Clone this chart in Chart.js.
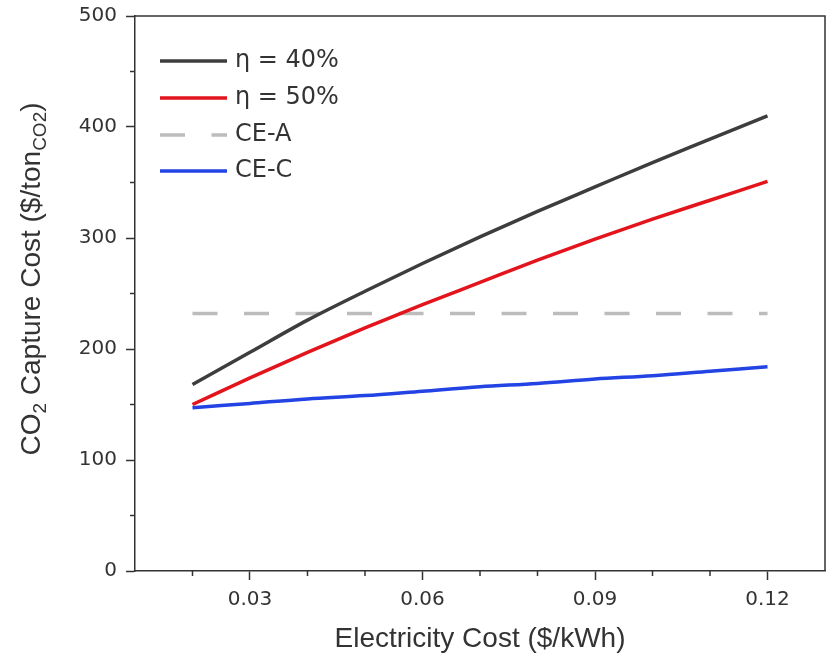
<!DOCTYPE html>
<html>
<head>
<meta charset="utf-8">
<script src="https://cdn.jsdelivr.net/npm/chart.js@4/dist/chart.umd.min.js"></script>
<style>
  html, body { margin: 0; padding: 0; background: #fff; }
  #wrap { width: 829px; height: 659px; }
</style>
</head>
<body>
<div id="wrap"><canvas id="c" width="829" height="659"></canvas></div>
<script>
// ---- data ----
const costs = [0.02, 0.03, 0.04, 0.05, 0.06, 0.07, 0.08, 0.09, 0.10, 0.11, 0.12];
const eta40 = [168, 197, 226, 252, 277, 301, 324, 346, 368, 389, 410];
const eta50 = [150, 174, 197, 219, 240, 260, 280, 299, 317, 334, 351];
const ceA   = [232, 232, 232, 232, 232, 232, 232, 232, 232, 232, 232];
const ceC   = [147, 151, 155, 158, 162, 166, 169, 173, 176, 180, 184];
const seriesLabels = ['η = 40%', 'η = 50%', 'CE-A', 'CE-C'];
const xTicks = [0.03, 0.06, 0.09, 0.12];
const xMinorTicks = [0.02, 0.04, 0.05, 0.07, 0.08, 0.10, 0.11];
const yTicks = [0, 100, 200, 300, 400, 500];
const yMinorTicks = [50, 150, 250, 350, 450];
const xTitle = 'Electricity Cost ($/kWh)';

const TITLE_FONT = '"Liberation Sans", Arial, sans-serif';
const TICK_FONT = '"DejaVu Sans", Verdana, sans-serif';
const AXIS = '#333333';

const pts = (ys) => costs.map((x, i) => ({ x: x, y: ys[i] }));

const frameAndText = {
  id: 'frameAndText',
  afterDraw(chart) {
    const ctx = chart.ctx;
    const a = chart.chartArea;
    const xs = chart.scales.x, ys = chart.scales.y;
    ctx.save();
    // top and right frame
    ctx.strokeStyle = AXIS;
    ctx.lineWidth = 1.5;
    ctx.beginPath();
    ctx.moveTo(a.left, a.top); ctx.lineTo(a.right, a.top); ctx.lineTo(a.right, a.bottom);
    ctx.stroke();
    // minor ticks
    ctx.beginPath();
    xMinorTicks.forEach(v => { const p = xs.getPixelForValue(v); ctx.moveTo(p, a.bottom); ctx.lineTo(p, a.bottom + 5); });
    yMinorTicks.forEach(v => { const p = ys.getPixelForValue(v); ctx.moveTo(a.left, p); ctx.lineTo(a.left - 5, p); });
    ctx.stroke();

    // x title
    ctx.fillStyle = AXIS;
    ctx.font = '28px ' + TITLE_FONT;
    ctx.textAlign = 'center';
    ctx.textBaseline = 'middle';
    ctx.fillText(xTitle, (a.left + a.right) / 2, 639);

    // y title with subscripts
    const big = '28px ' + TITLE_FONT, small = '19px ' + TITLE_FONT;
    const parts = [
      { t: 'CO', f: big, dy: 0 },
      { t: '2', f: small, dy: 6 },
      { t: ' Capture Cost ($/ton', f: big, dy: 0 },
      { t: 'CO2', f: small, dy: 6 },
      { t: ')', f: big, dy: 0 }
    ];
    let total = 0;
    parts.forEach(p => { ctx.font = p.f; p.w = ctx.measureText(p.t).width; total += p.w; });
    ctx.translate(40, 279);
    ctx.rotate(-Math.PI / 2);
    ctx.textAlign = 'left';
    ctx.textBaseline = 'alphabetic';
    let x = -total / 2;
    parts.forEach(p => { ctx.font = p.f; ctx.fillText(p.t, x, p.dy); x += p.w; });
    ctx.restore();

    // legend inside plot
    ctx.save();
    const rows = [61, 98, 135, 171];
    chart.data.datasets.forEach((ds, i) => {
      const y = rows[i];
      ctx.strokeStyle = ds.borderColor;
      ctx.lineWidth = ds.borderWidth;
      ctx.setLineDash(ds.borderDash || []);
      ctx.beginPath();
      ctx.moveTo(160, y); ctx.lineTo(227, y);
      ctx.stroke();
      ctx.setLineDash([]);
      ctx.fillStyle = AXIS;
      ctx.font = '24px ' + TICK_FONT;
      ctx.textAlign = 'left';
      ctx.textBaseline = 'middle';
      ctx.fillText(ds.label, 235, y);
    });
    ctx.restore();
  }
};

new Chart(document.getElementById('c'), {
  type: 'line',
  data: {
    datasets: [
      { label: seriesLabels[0], data: pts(eta40), borderColor: '#3d3d3d', borderWidth: 3.5, pointRadius: 0, cubicInterpolationMode: 'monotone' },
      { label: seriesLabels[1], data: pts(eta50), borderColor: '#e3141c', borderWidth: 3.5, pointRadius: 0, cubicInterpolationMode: 'monotone' },
      { label: seriesLabels[2], data: pts(ceA), borderColor: '#bcbcbc', borderWidth: 3.5, borderDash: [25, 26.5], pointRadius: 0 },
      { label: seriesLabels[3], data: pts(ceC), borderColor: '#2343e4', borderWidth: 3.5, pointRadius: 0, cubicInterpolationMode: 'monotone' }
    ]
  },
  options: {
    responsive: false,
    animation: false,
    devicePixelRatio: 1,
    layout: { padding: { left: 0, top: 16, right: 4, bottom: 0 } },
    plugins: { legend: { display: false }, tooltip: { enabled: false }, title: { display: false } },
    scales: {
      x: {
        type: 'linear', min: 0.01, max: 0.13,
        afterBuildTicks: (s) => { s.ticks = xTicks.map(v => ({ value: v })); },
        afterFit: (s) => { s.height = 88; s.paddingLeft = 0; s.paddingRight = 0; },
        ticks: { color: AXIS, font: { family: TICK_FONT, size: 20 }, padding: 8, maxRotation: 0,
                 callback: (v) => v.toFixed(2) },
        grid: { drawOnChartArea: false, drawTicks: true, tickLength: 9, tickColor: AXIS, tickWidth: 1.5 },
        border: { display: true, color: AXIS, width: 1.5 }
      },
      y: {
        type: 'linear', min: 0, max: 500,
        afterBuildTicks: (s) => { s.ticks = yTicks.map(v => ({ value: v })); },
        afterFit: (s) => { s.width = 135; s.paddingTop = 0; s.paddingBottom = 0; },
        ticks: { color: AXIS, font: { family: TICK_FONT, size: 20 }, padding: 9 },
        grid: { drawOnChartArea: false, drawTicks: true, tickLength: 9, tickColor: AXIS, tickWidth: 1.5 },
        border: { display: true, color: AXIS, width: 1.5 }
      }
    }
  },
  plugins: [frameAndText]
});
</script>
</body>
</html>
